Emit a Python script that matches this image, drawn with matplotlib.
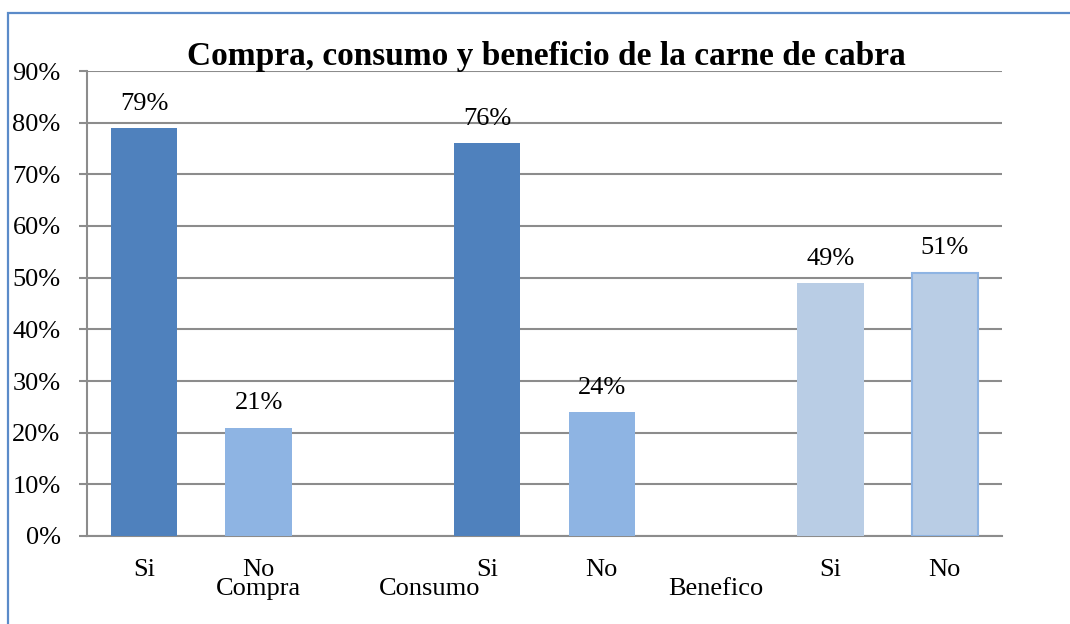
import numpy as np
import matplotlib
matplotlib.use("Agg")
import matplotlib.pyplot as plt
from matplotlib.patches import Rectangle

# =========================================================
# DATA
# =========================================================

answers = ["Si", "No", "Si", "No", "Si", "No"]
values = [79, 21, 76, 24, 49, 51]
positions = [0, 1, 3, 4, 6, 7]
groups = ["Compra", "Consumo", "Benefico"]
group_pos = [1.0, 2.5, 5.0]

bar_colors = ["#4F81BD", "#8EB4E3", "#4F81BD", "#8EB4E3", "#B9CDE5", "#B9CDE5"]
edge_colors = ["none", "none", "none", "none", "none", "#8EB4E3"]

# =========================================================
# FIGURE
# =========================================================

plt.rcParams["font.family"] = ["Liberation Serif", "DejaVu Serif"]

W, H = 1070, 624
fig = plt.figure(figsize=(W / 100, H / 100), dpi=100)

# outer chart frame
fig.patches.append(Rectangle(
    (8 / W, -0.1), 1.2, 1 - 13 / H + 0.1,
    transform=fig.transFigure, fill=False,
    edgecolor="#5B8BC9", linewidth=1.6
))

ax = fig.add_axes([87 / W, 1 - 536 / H, (1002 - 87) / W, (536 - 71) / H])

ax.bar(
    positions, values, width=0.58,
    color=bar_colors, edgecolor=edge_colors, linewidth=1.5, zorder=3
)

for x, v in zip(positions, values):
    ax.annotate(
        f"{v}%", (x, v), xytext=(0, 13), textcoords="offset points",
        ha="center", va="baseline", fontsize=19, color="#000000"
    )

ax.set_xlim(-0.5, 7.5)
ax.set_ylim(0, 90)
ax.set_yticks(np.arange(0, 91, 10))
ax.set_yticklabels([f"{t}%" for t in range(0, 91, 10)], fontsize=19)
ax.yaxis.grid(True, color="#8C8C8C", linewidth=1.5, zorder=0)
ax.set_axisbelow(True)
ax.tick_params(axis="y", length=6, width=1.5, color="#8C8C8C", pad=13)
ax.set_xticks([])

for s in ["top", "right"]:
    ax.spines[s].set_visible(False)
ax.spines["left"].set_color("#8C8C8C")
ax.spines["left"].set_linewidth(1.5)
ax.spines["bottom"].set_color("#8C8C8C")
ax.spines["bottom"].set_linewidth(1.5)

trans = ax.get_xaxis_transform()
for x, lab in zip(positions, answers):
    ax.text(x, -0.074, lab, transform=trans, ha="center", va="center", fontsize=19)
for x, lab in zip(group_pos, groups):
    ax.text(x, -0.113, lab, transform=trans, ha="center", va="center", fontsize=19)

fig.text(
    546 / W, 1 - 56 / H, "Compra, consumo y beneficio de la carne de cabra",
    ha="center", va="center", fontsize=24, fontweight="bold"
)

fig.savefig("out.png", dpi=100)
